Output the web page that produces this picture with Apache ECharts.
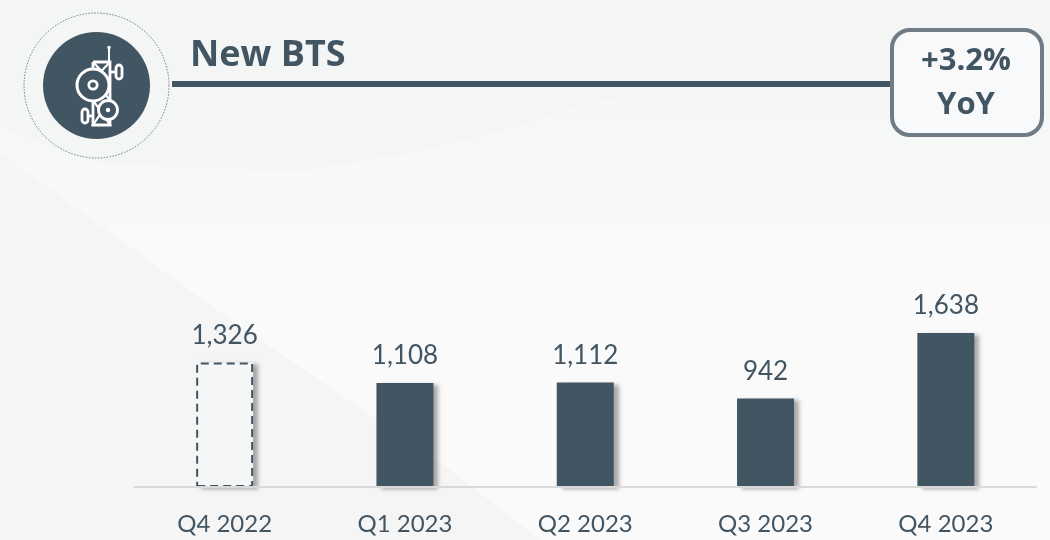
<!DOCTYPE html>
<html><head><meta charset="utf-8">
<style>html,body{margin:0;padding:0;background:#f4f5f5}#c{width:1050px;height:540px}</style>
<script src="https://cdn.jsdelivr.net/npm/echarts@6/dist/echarts.min.js"></script>
</head><body><div id="c"></div>
<script>
const categories = ['Q4 2022','Q1 2023','Q2 2023','Q3 2023','Q4 2023'];
const values = [1326,1108,1112,942,1638];
const baselineValues = [1326,null,null,null,null];
const titleText = 'New BTS';
const badgeLines = ['+3.2%','YoY'];
const DARK = '#425563';
const FONT = 'Lato, "Open Sans", sans-serif';
const chart = echarts.init(document.getElementById('c'), null, {renderer:'canvas'});
function icon(){
  const s = {stroke:'#fff', lineWidth:2.8, fill:'none'};
  const Z = 5;
  const c = [];
  const add = (type,shape,style,z)=>c.push({type,shape,style,z:z||Z});
  add('polyline',{points:[[93,62],[110,62],[110,125],[93,125],[93,62]]},s);
  add('polyline',{points:[[93,62],[110,80],[93,100],[110,125],[93,125],[110,100],[93,80],[110,62]]},{...s,lineWidth:2.2});
  add('line',{x1:109,y1:48,x2:109,y2:62},{...s,lineWidth:2});
  add('circle',{cx:109,cy:47.5,r:1.8},{fill:'#fff'});
  add('circle',{cx:93,cy:85,r:16},{stroke:'#fff',lineWidth:3,fill:DARK},6);
  add('circle',{cx:93,cy:85,r:4.2},{stroke:'#fff',lineWidth:2.8,fill:DARK},6);
  add('circle',{cx:108,cy:110,r:9.5},{stroke:'#fff',lineWidth:2.8,fill:DARK},6);
  add('circle',{cx:108,cy:110,r:2.2},{fill:'#fff'},6);
  add('rect',{x:116,y:65,width:6,height:14,r:3},s);
  add('line',{x1:110,y1:72,x2:116,y2:72},s);
  add('rect',{x:82,y:109,width:6,height:14,r:3},s);
  add('line',{x1:88,y1:116,x2:93,y2:116},s);
  return c;
}
chart.setOption({
  animation:false,
  backgroundColor:'#f4f5f5',
  grid:{left:134.5,right:14,top:300,bottom:53},
  xAxis:{type:'category',data:categories,z:10,
    axisLine:{lineStyle:{color:'#d9d9d9',width:2}},axisTick:{show:false},
    axisLabel:{color:DARK,fontFamily:FONT,fontSize:24,margin:25}},
  yAxis:{type:'value',min:0,max:1990,show:false,splitLine:{show:false}},
  series:[
    {type:'bar',barWidth:57,barGap:'-100%',z:3,data:values.map((v,i)=>i===0
        ?{value:v,itemStyle:{color:'#f5f6f6'}}:v),
      itemStyle:{color:DARK,shadowColor:'rgba(0,0,0,0.32)',shadowBlur:4,shadowOffsetX:5,shadowOffsetY:2},
      label:{show:true,position:'top',distance:14,color:DARK,fontFamily:FONT,fontSize:26,
        formatter:p=>p.value.toLocaleString('en-US')}},
    {type:'bar',barWidth:57,barGap:'-100%',z:4,data:baselineValues,
      itemStyle:{color:'transparent',borderColor:DARK,borderWidth:2,borderType:[8,5]},silent:true}
  ],
  graphic:[
    {type:'polygon',z:-10,silent:true,
      shape:{points:[[0,125],[40,143],[96,162],[200,169],[306,170],[400,155],[479,137],[600,100],[800,85],[1050,70],[1050,540],[0,540]]},
      style:{fill:new echarts.graphic.LinearGradient(0,0,0,1,[{offset:0,color:'#f5f6f6'},{offset:0.2,color:'#f7f8f8'},{offset:0.45,color:'#fafafb'},{offset:1,color:'#fafafb'}])}},
    {type:'polygon',z:-9,silent:true,shape:{points:[[0,153],[217,310],[450,470],[540,540],[0,540]]},style:{fill:'#f5f5f6'}},
    {type:'line',z:1,shape:{x1:172,y1:84,x2:892,y2:84},style:{stroke:DARK,lineWidth:6}},
    {type:'circle',z:2,shape:{cx:96.5,cy:85.5,r:72.5},style:{fill:'none',stroke:'#6f7b85',lineWidth:1,lineDash:[1.5,1.5]}},
    {type:'circle',z:2,shape:{cx:96.5,cy:85.5,r:53.5},style:{fill:DARK}},
    {type:'group',children:icon()},
    {type:'text',z:3,style:{x:190,y:56,text:titleText,font:'bold 36px "Open Sans", sans-serif',fill:DARK,textVerticalAlign:'middle'}},
    {type:'rect',z:3,shape:{x:892,y:30,width:150,height:105,r:18},style:{fill:'#f8f9fa',stroke:'#6f7b85',lineWidth:4}},
    {type:'text',z:4,style:{x:966,y:61,text:badgeLines[0],font:'bold 31px "Open Sans", sans-serif',fill:DARK,textAlign:'center',textVerticalAlign:'middle'}},
    {type:'text',z:4,style:{x:966,y:105,text:badgeLines[1],font:'bold 31px "Open Sans", sans-serif',fill:DARK,textAlign:'center',textVerticalAlign:'middle'}}
  ]
});
</script></body></html>
